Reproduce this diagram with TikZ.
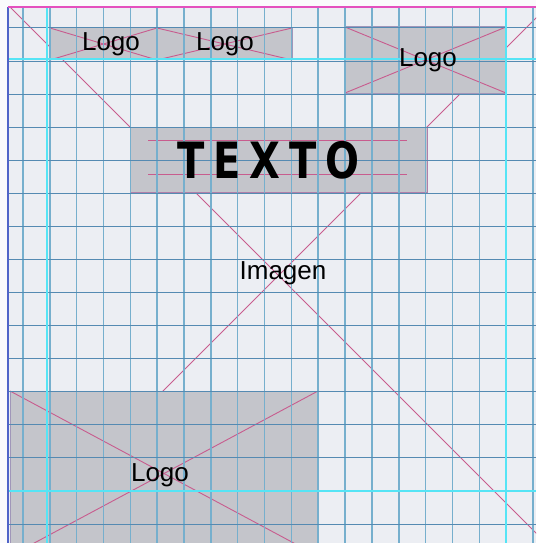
\documentclass[tikz,border=0pt]{standalone}
\usepackage{fontspec}
\setmainfont{Liberation Sans}
\newfontfamily\stencilfont{DejaVu Sans}
\definecolor{bgc}{RGB}{236,238,243}
\definecolor{marg}{RGB}{250,250,252}
\definecolor{gridv}{RGB}{118,175,205}
\definecolor{gridh}{RGB}{85,138,178}
\definecolor{cyanc}{RGB}{85,228,245}
\definecolor{leftc}{RGB}{80,100,200}
\definecolor{topc}{RGB}{228,80,190}
\definecolor{pinkc}{RGB}{200,92,142}
\definecolor{boxf}{RGB}{196,197,203}
\definecolor{boxd}{RGB}{160,150,185}
\tikzset{
  box/.style={draw=boxd, fill=boxf, line width=1pt, inner sep=0pt, outer sep=0pt, anchor=north west},
  xline/.style={draw=pinkc, line width=0.9pt},
  gridvl/.style={draw=gridv, line width=1.5pt},
  gridhl/.style={draw=gridh, line width=1.0pt},
  guide/.style={draw=cyanc, line width=1.8pt},
  lbl/.style={font=\fontsize{26}{30}\selectfont, inner sep=0pt, text=black},
}
\begin{document}
\begin{tikzpicture}[x=1pt,y=-1pt]
\useasboundingbox (0,0) rectangle (536,543);
\fill[marg] (0,0) rectangle (536,543);
\fill[bgc] (8,7) rectangle (536,543);
\begin{scope}
\clip (8,7) rectangle (536,543);
% big image placeholder
\coordinate (imgtl) at (10,7);
\coordinate (imgbr) at (547,544);
\coordinate (imgtr) at (547,7);
\coordinate (imgbl) at (10,544);
\draw[xline] (imgtl) -- (imgbr);
\draw[xline] (imgtr) -- (imgbl);
% boxes
\node[box, minimum width=107pt, minimum height=32pt] (l1) at (50,28) {};
\node[box, minimum width=135pt, minimum height=32pt] (l2) at (157,28) {};
\node[box, minimum width=161pt, minimum height=66pt] (l3) at (345,27) {};
\node[box, minimum width=297pt, minimum height=65pt, draw=boxd!60!pinkc] (tx) at (130,127) {};
\node[box, minimum width=308pt, minimum height=165pt] (l4) at (10,391) {};
\foreach \b in {l1,l2,l3,l4} {
  \draw[xline] (\b.north west) -- (\b.south east);
  \draw[xline] (\b.south west) -- (\b.north east);
}
\coordinate (ta1) at (148,140);
\coordinate (ta2) at (407,140);
\coordinate (tb1) at (148,174);
\coordinate (tb2) at (407,174);
\draw[xline] (ta1) -- (ta2);
\draw[xline] (tb1) -- (tb2);
% grid
\foreach \k in {0,...,19} \draw[gridvl] ({23+26.84*\k},7) -- ({23+26.84*\k},543);
\foreach \k in {0,...,15} \draw[gridhl] (8,{28+33.07*\k}) -- (536,{28+33.07*\k});
\end{scope}
% guides
\draw[guide] (47,7) -- (47,543);
\draw[guide] (506,7) -- (506,543);
\draw[guide] (8,59) -- (536,59);
\draw[guide] (8,491) -- (536,491);
\draw[leftc, line width=1.6pt] (8,7) -- (8,543);
\draw[topc, line width=1.6pt] (8,7) -- (536,7);
% texts
\node[lbl] (t1) at (111,44) {Logo};
\node[lbl] (t2) at (225,44) {Logo};
\node[lbl] (t3) at (428,60) {Logo};
\node[lbl] (t4) at (160,475) {Logo};
\node[lbl] (t5) at (283,273) {Imagen};
\node[inner sep=0pt] (tt) at (268.5,160.5) {\scalebox{0.8}[1]{\stencilfont\bfseries\fontsize{50}{56}\selectfont T\hspace{11pt}E\hspace{11pt}X\hspace{11pt}T\hspace{11pt}O}};
\end{tikzpicture}
\end{document}
